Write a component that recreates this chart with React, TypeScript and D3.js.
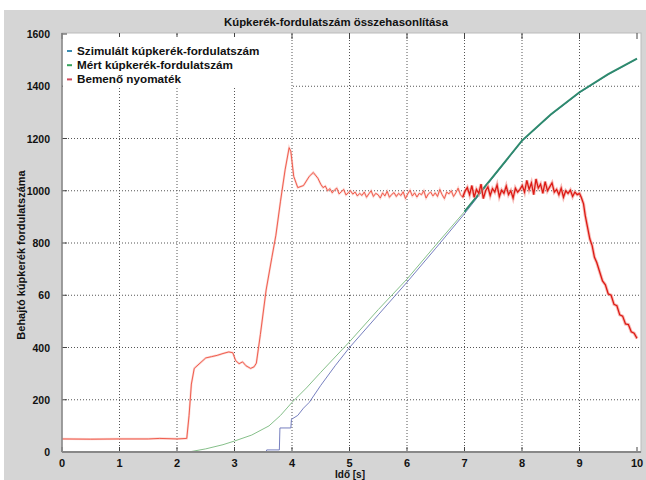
import React from 'react'
import * as d3 from 'd3'

// tick labels as printed in the original (the 600 label reads "60" there)
const xTicks = [0, 1, 2, 3, 4, 5, 6, 7, 8, 9, 10]
const yTicks = [0, 200, 400, 600, 800, 1000, 1200, 1400, 1600]
const yTickLabels = ['0', '200', '400', '60', '800', '1000', '1200', '1400', '1600']

const legendNames = ['Szimulált kúpkerék-fordulatszám', 'Mért kúpkerék-fordulatszám', 'Bemenő nyomaték']

// simulated speed [t, value]
const simulated: [number, number][] = [
  [0, 0], [3.55, 0], [3.56, 8], [3.78, 8], [3.79, 92], [3.98, 92], [3.99, 125],
  [4.1, 140], [4.2, 168], [4.3, 190], [4.5, 255], [4.75, 330], [5.0, 400],
  [5.5, 525], [6.0, 650], [6.5, 780], [7.0, 912], [7.5, 1052], [8.0, 1190],
  [8.5, 1290], [9.0, 1375], [9.5, 1445], [10, 1505],
]

// measured speed [t, value]
const measured: [number, number][] = [
  [2.2, 0], [2.5, 12], [2.8, 28], [3.0, 42], [3.3, 65], [3.6, 100], [3.8, 140],
  [4.0, 190], [4.25, 245], [4.5, 305], [5.0, 422], [5.5, 545], [6.0, 662],
  [6.5, 792], [7.0, 920], [7.5, 1055], [8.0, 1192], [8.5, 1292], [9.0, 1377],
  [9.5, 1446], [10, 1506],
]

// input torque, smooth start [t, value]
const torqueStart: [number, number][] = [
  [0, 50], [0.5, 49], [1.0, 50], [1.5, 50], [1.7, 52], [2.0, 50], [2.17, 52],
  [2.21, 140], [2.25, 260], [2.3, 320], [2.4, 340], [2.5, 360], [2.6, 365],
  [2.7, 370], [2.8, 377], [2.9, 383], [2.97, 380], [3.02, 350], [3.08, 338],
  [3.14, 345], [3.2, 330], [3.28, 320], [3.34, 326], [3.38, 340], [3.45, 450],
  [3.55, 620], [3.65, 745], [3.72, 830], [3.8, 960], [3.88, 1080], [3.95, 1165],
  [3.98, 1150], [4.03, 1055], [4.1, 1012], [4.2, 1020], [4.3, 1055], [4.37, 1070],
  [4.45, 1048],
]

// input torque, noisy plateau 4.5 s .. 9.0 s (evenly sampled)
const torqueNoisy = [
  1025, 1012, 1018, 1000, 1008, 992, 1003, 1010, 988, 996, 1005, 984, 992, 1000, 987, 995, 980, 990,
  982, 995, 975, 988, 1000, 978, 990, 985, 972, 992, 980, 998, 975, 986, 993, 978, 990, 982, 996, 970,
  988, 1002, 980, 992, 976, 990, 985, 1000, 972, 988, 995, 980, 992, 978, 1005, 985, 970, 995, 988,
  1000, 978, 992, 1010, 985, 975,
  998, 1012, 985, 1020, 975, 1005, 990, 1025, 970, 1000, 1015, 982, 1008, 995, 1022, 978, 1002, 990,
  1018, 985, 1000, 972, 1010, 995, 1005,
  1020, 995, 1040, 1005, 1030, 985, 1045, 1010, 1025, 990, 1035, 1000, 1015, 1030, 995,
  1005, 985, 1010, 975, 1000, 990, 1002, 978, 995, 985, 990,
]

// input torque, fall-off [t, value]
const torqueEnd: [number, number][] = [
  [9.03, 975], [9.07, 950], [9.1, 905], [9.14, 860], [9.18, 815], [9.22, 790],
  [9.26, 745], [9.3, 725], [9.35, 690], [9.4, 655], [9.45, 640], [9.5, 605],
  [9.55, 600], [9.6, 565], [9.65, 560], [9.7, 525], [9.75, 520], [9.8, 490],
  [9.85, 488], [9.9, 460], [9.95, 455], [10, 435],
]

const W = 646
const H = 480
const left = 62
const right = 637
const top = 34
const bottom = 452

export default function App() {
  const x = d3.scaleLinear().domain([0, 10]).range([left, right])
  const y = d3.scaleLinear().domain([0, 1600]).range([bottom, top])

  const noisyT = d3.scaleLinear().domain([0, torqueNoisy.length - 1]).range([4.5, 9.0])
  const torque: [number, number][] = [
    ...torqueStart,
    ...torqueNoisy.map((v, i) => [noisyT(i), v] as [number, number]),
    ...torqueEnd,
  ]
  const torqueEarly = torque.filter((d) => d[0] <= 7.05)
  const torqueLate = torque.filter((d) => d[0] >= 6.95)
  const measuredEarly = measured.filter((d) => d[0] <= 7.5)
  const measuredLate = measured.filter((d) => d[0] >= 7.0)

  const line = d3.line<[number, number]>()
    .x((d) => x(d[0]))
    .y((d) => y(d[1]))

  const font = '"Liberation Sans", Arial, sans-serif'
  const legendColors = ['#3b8db3', '#34a25a', '#cf4a5a']

  return (
    <svg width={W} height={H} style={{ position: 'absolute', left: 0, top: 0 }} fontFamily={font}>
      <rect x={0} y={0} width={W} height={H} fill="#fff" />
      <rect x={4} y={10} width={W - 4} height={H - 10} fill="#d5d5d5" />
      <rect x={left} y={top - 1} width={right - left + 4} height={bottom - top + 1} fill="#fff" stroke="#bbb" />

      {/* grid */}
      {xTicks.slice(1, -1).map((t) => (
        <line key={'gx' + t} x1={x(t)} x2={x(t)} y1={top} y2={bottom}
          stroke="#555" strokeWidth={1} strokeDasharray="1,2" />
      ))}
      {yTicks.slice(1, -1).map((t) => (
        <line key={'gy' + t} x1={left} x2={right + 4} y1={y(t)} y2={y(t)}
          stroke="#555" strokeWidth={1} strokeDasharray="1,2" />
      ))}
      {xTicks.map((t) => (
        <g key={'tx' + t}>
          <line x1={x(t)} x2={x(t)} y1={top - 1} y2={top + 5} stroke="#444" />
          <line x1={x(t)} x2={x(t)} y1={bottom} y2={bottom - 5} stroke="#444" />
        </g>
      ))}
      {yTicks.map((t) => (
        <line key={'ty' + t} x1={left} x2={left + 5} y1={y(t)} y2={y(t)} stroke="#444" />
      ))}

      {/* legend box */}
      <rect x={left + 1} y={top + 3} width={228} height={51} fill="#fff" />

      {/* series */}
      <path d={line(simulated) ?? ''} fill="none" stroke="#6670b8" strokeWidth={0.9} />
      <path d={line(measuredEarly) ?? ''} fill="none" stroke="#86c08a" strokeWidth={1} />
      <path d={line(measuredLate) ?? ''} fill="none" stroke="#2e8a6e" strokeWidth={2} />
      <path d={line(torqueEarly) ?? ''} fill="none" stroke="#f8b8b0" strokeWidth={2.2} opacity={0.6} />
      <path d={line(torqueEarly) ?? ''} fill="none" stroke="#ee5040" strokeWidth={0.9} />
      <path d={line(torqueLate) ?? ''} fill="none" stroke="#f4a09a" strokeWidth={3.2} opacity={0.7} />
      <path d={line(torqueLate) ?? ''} fill="none" stroke="#dc1a14" strokeWidth={1.3} />

      {/* axes */}
      <line x1={left} x2={left} y1={top - 1} y2={bottom} stroke="#888" strokeWidth={1.5} />
      <line x1={left} x2={right + 4} y1={bottom} y2={bottom} stroke="#888" strokeWidth={2} />

      {legendNames.map((name, i) => (
        <g key={name}>
          <line x1={67} x2={72} y1={51 + i * 14.2} y2={51 + i * 14.2} stroke={legendColors[i]} strokeWidth={2} />
          <text x={77} y={55 + i * 14.2} fontSize={11.7} fontWeight="bold" fill="#111">{name}</text>
        </g>
      ))}

      <text x={336} y={26} fontSize={11.4} fontWeight="bold" textAnchor="middle" fill="#111">
        Kúpkerék-fordulatszám összehasonlítása
      </text>

      {yTicks.map((t, i) => (
        <text key={'ly' + t} x={50} y={y(t) + 4} fontSize={10.5} fontWeight="bold" textAnchor="end" fill="#111">
          {yTickLabels[i]}
        </text>
      ))}
      {xTicks.map((t) => (
        <text key={'lx' + t} x={x(t)} y={467} fontSize={11} fontWeight="bold" textAnchor="middle" fill="#111">
          {t}
        </text>
      ))}
      <text x={350} y={478} fontSize={10} fontWeight="bold" textAnchor="middle" fill="#111">Idő [s]</text>
      <text transform="translate(25,255) rotate(-90)" fontSize={11} fontWeight="bold" textAnchor="middle" fill="#111">
        Behajtó kúpkerék fordulatszáma
      </text>
    </svg>
  )
}
